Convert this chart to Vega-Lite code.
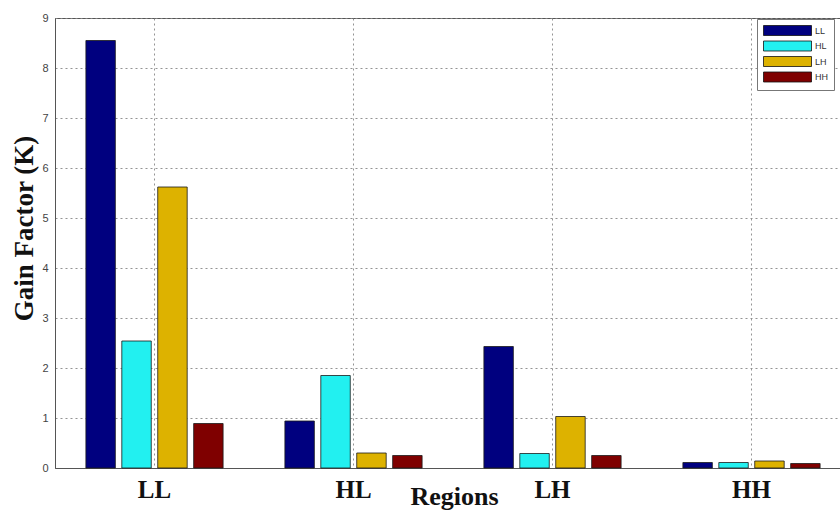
{
  "$schema": "https://vega.github.io/schema/vega-lite/v6.json",
  "width": 785,
  "height": 450,
  "autosize": "none",
  "padding": {"left": 55, "top": 18, "right": 0, "bottom": 42},
  "background": "white",
  "data": {
    "values": [
      {"region": "LL", "series": "LL", "k": 8.55},
      {"region": "LL", "series": "HL", "k": 2.54},
      {"region": "LL", "series": "LH", "k": 5.62},
      {"region": "LL", "series": "HH", "k": 0.89},
      {"region": "HL", "series": "LL", "k": 0.94},
      {"region": "HL", "series": "HL", "k": 1.85},
      {"region": "HL", "series": "LH", "k": 0.30},
      {"region": "HL", "series": "HH", "k": 0.25},
      {"region": "LH", "series": "LL", "k": 2.43},
      {"region": "LH", "series": "HL", "k": 0.29},
      {"region": "LH", "series": "LH", "k": 1.03},
      {"region": "LH", "series": "HH", "k": 0.25},
      {"region": "HH", "series": "LL", "k": 0.11},
      {"region": "HH", "series": "HL", "k": 0.11},
      {"region": "HH", "series": "LH", "k": 0.14},
      {"region": "HH", "series": "HH", "k": 0.09}
    ]
  },
  "mark": {"type": "bar", "stroke": "#1a1a1a", "strokeWidth": 0.8},
  "encoding": {
    "x": {
      "field": "region",
      "type": "nominal",
      "sort": ["LL", "HL", "LH", "HH"],
      "scale": {"range": [0, 796], "paddingInner": 0, "paddingOuter": 0},
      "axis": {
        "labelAngle": 0,
        "labelFont": "Liberation Serif",
        "labelFontSize": 25,
        "labelFontWeight": "bold",
        "labelColor": "#111",
        "labelBaseline": "alphabetic",
        "labelPadding": 29,
        "ticks": false,
        "tickSize": 0,
        "bandPosition": 0.5,
        "grid": true,
        "gridDash": [2, 3],
        "gridColor": "#888",
        "gridOpacity": 0.9,
        "domainColor": "#555",
        "title": "Regions",
        "titleFont": "Liberation Serif",
        "titleFontSize": 26,
        "titleFontWeight": "bold",
        "titleColor": "#111",
        "titleX": 399,
        "titleY": 36,
        "titleBaseline": "alphabetic",
        "titleAlign": "center"
      }
    },
    "xOffset": {
      "field": "series",
      "sort": ["LL", "HL", "LH", "HH"],
      "scale": {"paddingInner": 0.18, "paddingOuter": 0.86}
    },
    "y": {
      "field": "k",
      "type": "quantitative",
      "scale": {"domain": [0, 9], "nice": false},
      "axis": {
        "values": [0, 1, 2, 3, 4, 5, 6, 7, 8, 9],
        "grid": true,
        "gridDash": [2, 3],
        "gridColor": "#888",
        "gridOpacity": 0.9,
        "domainColor": "#555",
        "ticks": false,
        "tickSize": 0,
        "labelFont": "Liberation Sans",
        "labelFontSize": 11,
        "labelColor": "#444",
        "labelPadding": 7,
        "title": "Gain Factor (K)",
        "titleFont": "Liberation Serif",
        "titleFontSize": 27,
        "titleFontWeight": "bold",
        "titleColor": "#111",
        "titleAngle": -90,
        "titleX": -31,
        "titleY": 210,
        "titleBaseline": "middle",
        "titleAlign": "center"
      }
    },
    "color": {
      "field": "series",
      "type": "nominal",
      "sort": ["LL", "HL", "LH", "HH"],
      "scale": {
        "domain": ["LL", "HL", "LH", "HH"],
        "range": ["#00007f", "#22f0f0", "#ddb200", "#7f0000"]
      },
      "legend": {
        "orient": "none",
        "legendX": 702,
        "legendY": 1,
        "title": null,
        "symbolType": "M-4.8,-1H4.8V1H-4.8Z",
        "symbolSize": 100,
        "symbolOffset": 19,
        "symbolStrokeColor": "#111",
        "symbolStrokeWidth": 0.8,
        "symbolOpacity": 1,
        "labelFont": "Liberation Sans",
        "labelFontSize": 9,
        "labelColor": "#333",
        "labelOffset": 22,
        "strokeColor": "#777",
        "fillColor": "white",
        "padding": 6,
        "rowPadding": 0.5
      }
    }
  },
  "config": {"view": {"stroke": "#555"}}
}
